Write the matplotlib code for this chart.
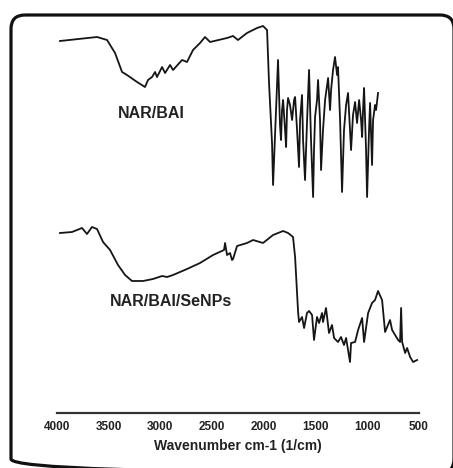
import matplotlib
matplotlib.use("Agg")
import matplotlib.pyplot as plt
from matplotlib.patches import FancyBboxPatch

plt.rcParams['font.family'] = ['Liberation Sans', 'DejaVu Sans']

# FTIR spectra, wavenumber (cm-1) vs offset transmittance (a.u.)
nar_bai_wn = [3971, 3613, 3516, 3439, 3371, 3323, 3226, 3149, 3120, 3081, 3052, 3033,
              2984, 2955, 2907, 2878, 2791, 2743, 2685, 2617, 2569, 2520, 2356, 2298,
              2250, 2163, 2066, 2008, 1969, 1950, 1921, 1911,
              1863, 1844, 1834, 1824, 1814, 1795, 1785, 1776, 1766, 1747, 1727, 1708,
              1698, 1679, 1660, 1650, 1631, 1621, 1602, 1582, 1563, 1544, 1524, 1515,
              1505, 1486, 1476, 1457, 1447, 1428, 1408, 1379, 1360, 1350, 1331, 1312,
              1292, 1283, 1263, 1244, 1225, 1205, 1186, 1167, 1157, 1138, 1118, 1099,
              1079, 1060, 1050, 1041, 1031, 1012, 1002, 983, 973, 954, 944, 925,
              915, 896]
nar_bai_t = [379, 383, 380, 367, 348, 345, 338, 333, 340, 343, 348, 343,
             353, 347, 355, 350, 360, 358, 370, 377, 383, 378, 382, 384,
             380, 387, 392, 394, 390, 337, 277, 235,
             360, 295, 280, 310, 320, 290, 273, 310, 322, 315, 300, 320,
             323, 290, 253, 300, 325, 280, 240, 300, 350, 280, 223, 270,
             303, 320, 340, 300, 250, 290, 320, 342, 310, 330, 350, 363,
             345, 353, 300, 228, 290, 315, 327, 290, 270, 305, 318, 297,
             320, 300, 283, 310, 332, 270, 223, 290, 317, 255, 300, 315,
             310, 327]

senps_wn = [3971, 3855, 3758, 3710, 3662, 3613, 3555, 3487, 3410, 3342, 3275, 3168,
            3072, 2984, 2936, 2878, 2743, 2617, 2491, 2385, 2375, 2356, 2327, 2308,
            2298, 2259, 2163, 2104, 2008, 1911, 1814, 1766, 1718, 1698, 1669, 1660,
            1631, 1611, 1583, 1563, 1534, 1515, 1486, 1466, 1437, 1428, 1399, 1370,
            1341, 1321, 1283, 1254, 1225, 1205, 1167, 1157, 1118, 1089, 1050, 1031,
            992, 954, 925, 896, 857, 828, 780, 760, 702, 683, 673, 663,
            634, 615, 586, 557, 518]
senps_t = [187, 188, 192, 186, 193, 191, 178, 170, 155, 145, 139, 139,
           141, 144, 143, 145, 151, 157, 165, 170, 177, 165, 167, 160,
           161, 174, 177, 180, 177, 185, 189, 187, 183, 163, 108, 98,
           103, 92, 107, 109, 105, 80, 103, 97, 107, 98, 112, 87,
           95, 82, 78, 83, 75, 82, 58, 77, 78, 90, 102, 78,
           107, 117, 120, 129, 120, 88, 100, 90, 80, 78, 112, 78,
           67, 72, 63, 58, 60]

x_ticks = [4000, 3500, 3000, 2500, 2000, 1500, 1000, 500]

W, H = 453, 468
fig = plt.figure(figsize=(W / 100, H / 100), dpi=100)

# rounded frame around the whole chart
bg = fig.add_axes([0, 0, 1, 1])
bg.set_xlim(0, W)
bg.set_ylim(H, 0)
bg.axis('off')
bg.add_patch(FancyBboxPatch((11, 15), 443, 458,
                            boxstyle="round,pad=0,rounding_size=14",
                            fill=False, ec='#111111', lw=2.3))

ax = fig.add_axes([57 / W, 55 / H, 362 / W, 393 / H])
ax.patch.set_alpha(0)
ax.plot(nar_bai_wn, nar_bai_t, color='#151515', lw=1.3)
ax.plot(senps_wn, senps_t, color='#151515', lw=1.3)

ax.set_xlim(4000, 500)
ax.set_ylim(7, 400)
for s in ['top', 'left', 'right']:
    ax.spines[s].set_visible(False)
ax.spines['bottom'].set_color('#333333')
ax.spines['bottom'].set_linewidth(1.6)
ax.set_yticks([])
ax.set_xticks(x_ticks)
ax.set_xticklabels([str(v) for v in x_ticks], fontsize=8.5, fontweight='bold',
                   color='#222222')
ax.tick_params(axis='x', length=0, pad=6)
ax.set_xlabel('Wavenumber cm-1 (1/cm)', fontsize=10, fontweight='bold',
              color='#222222', labelpad=4)

ax.text(3090, 307, 'NAR/BAI', fontsize=11.5, fontweight='bold', color='#222222',
        ha='center', va='center')
ax.text(2900, 118, 'NAR/BAI/SeNPs', fontsize=11.5, fontweight='bold', color='#222222',
        ha='center', va='center')

fig.savefig('out.png', dpi=100)
